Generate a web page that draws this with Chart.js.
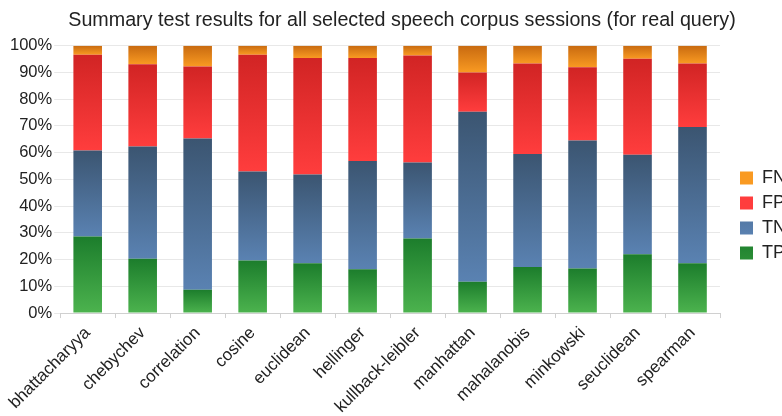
<!DOCTYPE html>
<html>
<head>
<meta charset="utf-8">
<script src="https://cdn.jsdelivr.net/npm/chart.js@4/dist/chart.umd.min.js"></script>
<style>
  html, body { margin: 0; padding: 0; background: #fff; overflow: hidden; }
  #clip { width: 782px; height: 416px; overflow: hidden; }
  #wrap { width: 796px; height: 416px; position: relative; }
</style>
</head>
<body>
<div id="clip"><div id="wrap"><canvas id="chart"></canvas></div></div>
<script>
const labels = ['bhattacharyya', 'chebychev', 'correlation', 'cosine', 'euclidean', 'hellinger',
  'kullback-leibler', 'manhattan', 'mahalanobis', 'minkowski', 'seuclidean', 'spearman']

// percentages, bottom to top
const tp = [28.6, 20.3, 8.7, 19.7, 18.6, 16.4, 27.9, 11.7, 17.2, 16.7, 22.0, 18.6]
const tn = [32.2, 42.0, 56.6, 33.2, 33.2, 40.5, 28.4, 63.6, 42.3, 47.8, 37.2, 51.0]
const fp = [35.8, 30.7, 26.9, 43.7, 43.6, 38.5, 40.0, 14.7, 33.8, 27.4, 35.9, 23.7]
const fn = [3.4, 7.0, 7.8, 3.4, 4.6, 4.6, 3.7, 10.0, 6.7, 8.1, 4.9, 6.7]

const yTicks = [0, 10, 20, 30, 40, 50, 60, 70, 80, 90, 100]

// vertical gradient per segment: dark at top, lighter at bottom
const segmentFill = (dark, light, solid) => (ctx) => {
  const chart = ctx.chart
  if (!chart.chartArea || ctx.dataIndex === undefined || ctx.type !== 'data') return solid
  const ys = chart.scales.y
  let base = 0
  for (let k = 0; k < ctx.datasetIndex; k++) base += chart.data.datasets[k].data[ctx.dataIndex]
  const top = ys.getPixelForValue(base + ctx.raw)
  const bottom = ys.getPixelForValue(base)
  if (!isFinite(top) || !isFinite(bottom) || top === bottom) return solid
  const g = chart.ctx.createLinearGradient(0, top, 0, bottom)
  g.addColorStop(0, dark)
  g.addColorStop(1, light)
  return g
}

const datasets = [
  { label: 'TP', data: tp, backgroundColor: segmentFill('#1c7d2c', '#4cb34e', '#2f9a3b') },
  { label: 'TN', data: tn, backgroundColor: segmentFill('#3b5571', '#5a82b2', '#4a6d96') },
  { label: 'FP', data: fp, backgroundColor: segmentFill('#d12424', '#ff3d3d', '#ea3030') },
  { label: 'FN', data: fn, backgroundColor: segmentFill('#c86a10', '#f99a22', '#e7861a') },
]

new Chart(document.getElementById('chart'), {
  type: 'bar',
  data: {
    labels,
    datasets: datasets.map((d) => ({ ...d, barPercentage: 0.52, categoryPercentage: 1, borderWidth: 0 })),
  },
  options: {
    responsive: true,
    maintainAspectRatio: false,
    animation: false,
    layout: { padding: { left: 8, right: 0, top: 9, bottom: -6 } },
    plugins: {
      title: {
        display: true,
        text: 'Summary test results for all selected speech corpus sessions (for real query)',
        color: '#222',
        font: { family: 'Liberation Sans', size: 19.7, weight: 'normal' },
        padding: { top: 0, bottom: 13 },
      },
      legend: {
        position: 'right',
        reverse: true,
        labels: {
          boxWidth: 13,
          boxHeight: 13,
          padding: 7,
          color: '#222',
          font: { family: 'Liberation Sans', size: 18 },
        },
      },
      tooltip: { enabled: false },
    },
    scales: {
      x: {
        stacked: true,
        grid: { drawOnChartArea: false, color: '#d0d0d0', tickLength: 5, offset: true },
        border: { color: '#d0d0d0' },
        ticks: {
          minRotation: 45,
          maxRotation: 45,
          color: '#222',
          padding: 5,
          font: { family: 'Liberation Sans', size: 17 },
        },
      },
      y: {
        stacked: true,
        min: 0,
        max: 100,
        afterBuildTicks: (axis) => { axis.ticks = yTicks.map((v) => ({ value: v })) },
        grid: { color: '#e8e8e8', tickLength: 6 },
        border: { display: false },
        ticks: {
          color: '#222',
          padding: 2,
          font: { family: 'Liberation Sans', size: 16.5 },
          callback: (v) => `${v}%`,
        },
      },
      // empty spacer between plot and legend
      gap: {
        type: 'linear',
        position: 'right',
        grid: { display: false },
        border: { display: false },
        ticks: { display: false },
        afterFit: (axis) => { axis.width = 13 },
      },
    },
  },
})
</script>
</body>
</html>
